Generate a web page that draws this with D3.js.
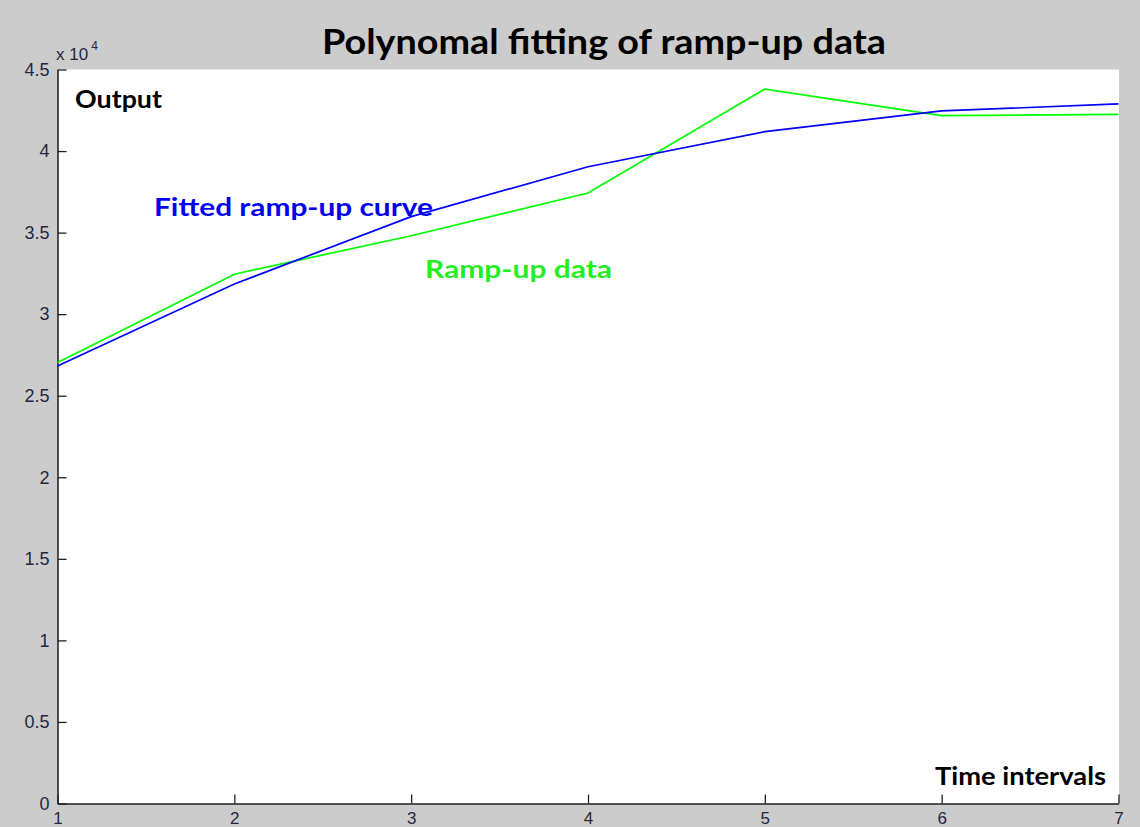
<!DOCTYPE html>
<html>
<head>
<meta charset="utf-8">
<script src="https://cdn.jsdelivr.net/npm/d3@7"></script>
<style>
  html, body { margin: 0; padding: 0; background: #cccccc; }
  svg { display: block; }
</style>
</head>
<body>
<svg id="chart" width="1140" height="827"></svg>
<script>
// ---- data ----
const timeIntervals = [1, 2, 3, 4, 5, 6, 7];
const rampUpData   = [27030, 32450, 34810, 37430, 43800, 42170, 42250];
const fittedCurve  = [26820, 31850, 35980, 39040, 41190, 42460, 42890];
const xTickValues  = [1, 2, 3, 4, 5, 6, 7];
const xTickLabels  = ["1", "2", "3", "4", "5", "6", "7"];
const yTickValues  = [0, 5000, 10000, 15000, 20000, 25000, 30000, 35000, 40000, 45000];
const yTickLabels  = ["0", "0.5", "1", "1.5", "2", "2.5", "3", "3.5", "4", "4.5"];

// ---- layout ----
const W = 1140, H = 827;
const plot = { left: 57.5, right: 1118.5, top: 69.5, bottom: 803.5 };
const svg = d3.select("#chart");

svg.append("rect").attr("x", 0).attr("y", 0).attr("width", W).attr("height", H).attr("fill", "#cccccc");
svg.append("rect")
  .attr("x", plot.left).attr("y", plot.top)
  .attr("width", plot.right - plot.left + 0.5).attr("height", plot.bottom - plot.top)
  .attr("fill", "#ffffff");

const x = d3.scaleLinear().domain([1, 7]).range([plot.left, plot.right]);
const y = d3.scaleLinear().domain([0, 45000]).range([plot.bottom, plot.top]);

const tickColor = "#262640";
const axisFont = "'Liberation Sans', Arial, sans-serif";

// x axis (ticks inward)
const xAxis = d3.axisBottom(x)
  .tickValues(xTickValues)
  .tickFormat((d, i) => xTickLabels[i])
  .tickSizeInner(-9).tickSizeOuter(0).tickPadding(8);
const gx = svg.append("g").attr("transform", `translate(0,${plot.bottom})`).call(xAxis);
gx.select(".domain").attr("stroke", "#222").attr("stroke-width", 1.6);
gx.selectAll(".tick line").attr("stroke", "#222").attr("stroke-width", 1.3);
gx.selectAll(".tick text").attr("fill", tickColor).style("font-family", axisFont).style("font-size", "17px");

// y axis (ticks inward)
const yAxis = d3.axisLeft(y)
  .tickValues(yTickValues)
  .tickFormat((d, i) => yTickLabels[i])
  .tickSizeInner(-9).tickSizeOuter(0).tickPadding(8);
const gy = svg.append("g").attr("transform", `translate(${plot.left},0)`).call(yAxis);
gy.select(".domain").attr("stroke", "#222").attr("stroke-width", 1.6);
gy.selectAll(".tick line").attr("stroke", "#222").attr("stroke-width", 1.3);
gy.selectAll(".tick text").attr("fill", tickColor).style("font-family", axisFont).style("font-size", "18px");

// exponent label
const expG = svg.append("text").attr("x", 56).attr("y", 60)
  .attr("fill", tickColor).style("font-family", axisFont).style("font-size", "17px");
expG.append("tspan").text("x 10");
expG.append("tspan").attr("dx", 3).attr("dy", -10).style("font-size", "12px").text("4");

// lines
const line = d3.line().x((d, i) => x(timeIntervals[i])).y(d => y(d));
svg.append("path").datum(rampUpData)
  .attr("d", line).attr("fill", "none").attr("stroke", "#00ff00").attr("stroke-width", 1.7);
svg.append("path").datum(fittedCurve)
  .attr("d", line).attr("fill", "none").attr("stroke", "#0000ff").attr("stroke-width", 1.7);

// texts
const boldFont = "Lato, 'Open Sans', sans-serif";
function label(txt, x0, base, size, len, color, anchor) {
  svg.append("text")
    .attr("x", x0).attr("y", base)
    .attr("text-anchor", anchor || "start")
    .attr("textLength", len).attr("lengthAdjust", "spacingAndGlyphs")
    .attr("fill", color)
    .style("font-family", boldFont).style("font-weight", "bold").style("font-size", size + "px")
    .text(txt);
}
label("Polynomal fitting of ramp-up data", 322, 54, 35, 564, "#000000");
label("Output", 75, 108, 25, 87, "#000000");
label("Fitted ramp-up curve", 154, 216, 25, 279, "#0000ee");
label("Ramp-up data", 425, 278, 25, 187, "#22ee22");
label("Time intervals", 935, 785, 25, 171, "#000000");
</script>
</body>
</html>
